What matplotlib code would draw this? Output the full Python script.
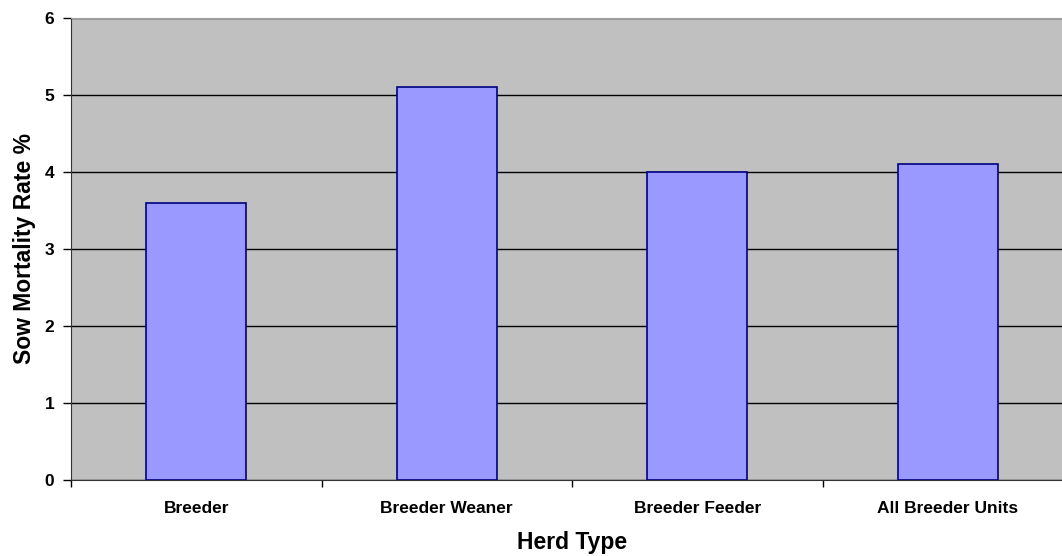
import matplotlib
matplotlib.use('Agg')
import matplotlib.pyplot as plt
import numpy as np

plt.rcParams['font.family'] = ['Liberation Sans', 'DejaVu Sans']
plt.rcParams['font.weight'] = 'bold'

categories = ['Breeder', 'Breeder Weaner', 'Breeder Feeder', 'All Breeder Units']
mortality = [3.6, 5.1, 4.0, 4.1]
y_ticks = [0, 1, 2, 3, 4, 5, 6]

W, H = 1062, 556
fig = plt.figure(figsize=(W / 100, H / 100), dpi=100)
# plot area runs a little past the right edge, as in the original
ax = fig.add_axes([71 / W, 1 - 480 / H, (1073 - 71) / W, (480 - 18) / H])
ax.set_facecolor('#c0c0c0')

x = np.arange(len(categories))
ax.bar(x, mortality, width=0.4, color='#9999ff', edgecolor='#000080', linewidth=1.2, zorder=3)

ax.set_xlim(-0.5, len(categories) - 0.5)
ax.set_ylim(0, 6)
ax.set_yticks(y_ticks)
ax.yaxis.grid(True, color='black', linewidth=1.0, zorder=1)
ax.set_axisbelow(True)

ax.set_xticks(np.arange(len(categories) + 1) - 0.5)
ax.set_xticklabels([])
ax.set_xticks(x, minor=True)
ax.set_xticklabels(categories, minor=True, fontsize=12.5, fontweight='bold')
ax.tick_params(axis='x', which='minor', length=0, pad=15)
ax.tick_params(axis='x', which='major', length=5, width=1, color='black', direction='out')
ax.tick_params(axis='y', length=6, width=1, labelsize=12.5, pad=6)

for side in ['top', 'right']:
    ax.spines[side].set_color('#a0a0a0')
ax.spines['left'].set_color('#333333')
ax.spines['bottom'].set_color('#333333')

ax.set_xlabel('Herd Type', fontsize=16.5, fontweight='bold', labelpad=11)
ax.set_ylabel('Sow Mortality Rate %', fontsize=16.5, fontweight='bold', labelpad=6)

fig.savefig('out.png', dpi=100)
